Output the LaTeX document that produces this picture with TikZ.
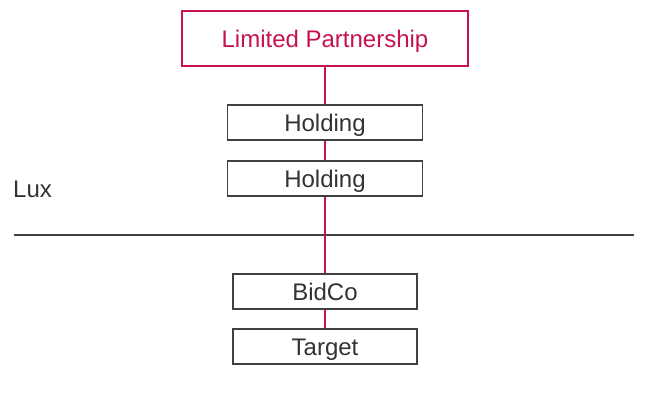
\documentclass[tikz,border=0pt]{standalone}
\usepackage{fontspec}
\setmainfont{Liberation Sans}
\definecolor{pinkc}{HTML}{C8124F}
\definecolor{boxc}{HTML}{404040}
\definecolor{txtc}{HTML}{333333}
\begin{document}
\begin{tikzpicture}[x=1pt,y=-1pt,
  base/.style={line width=1.2pt,fill=white,inner sep=0pt,text height=18pt,text depth=0pt,font=\fontsize{24}{28}\selectfont},
  ent/.style={base,draw=boxc,text=txtc},
  lp/.style={base,draw=pinkc,text=pinkc},
  link/.style={draw=pinkc,line width=1.2pt}]
\useasboundingbox (0,0) rectangle (662,414);
\node[lp,minimum width=286pt,minimum height=55pt] (lp) at (325,38.5) {Limited Partnership};
\node[ent,minimum width=195pt,minimum height=35pt] (h1) at (325,122.5) {Holding};
\node[ent,minimum width=195pt,minimum height=35pt] (h2) at (325,178.5) {Holding};
\node[ent,minimum width=184pt,minimum height=35pt] (bid) at (325,291.5) {BidCo};
\node[ent,minimum width=184pt,minimum height=35pt] (tgt) at (325,346.5) {Target};
\node[anchor=base west,inner sep=0pt,text=txtc,font=\fontsize{24}{28}\selectfont] (lux) at (13,198) {Lux};
\coordinate (bl) at (14,235);
\coordinate (br) at (634,235);
\draw[boxc,line width=1.2pt] (bl) -- (br);
\draw[link] (lp.south) -- (h1.north);
\draw[link] (h1.south) -- (h2.north);
\draw[link] (h2.south) -- (bid.north);
\draw[link] (bid.south) -- (tgt.north);
\end{tikzpicture}
\end{document}
